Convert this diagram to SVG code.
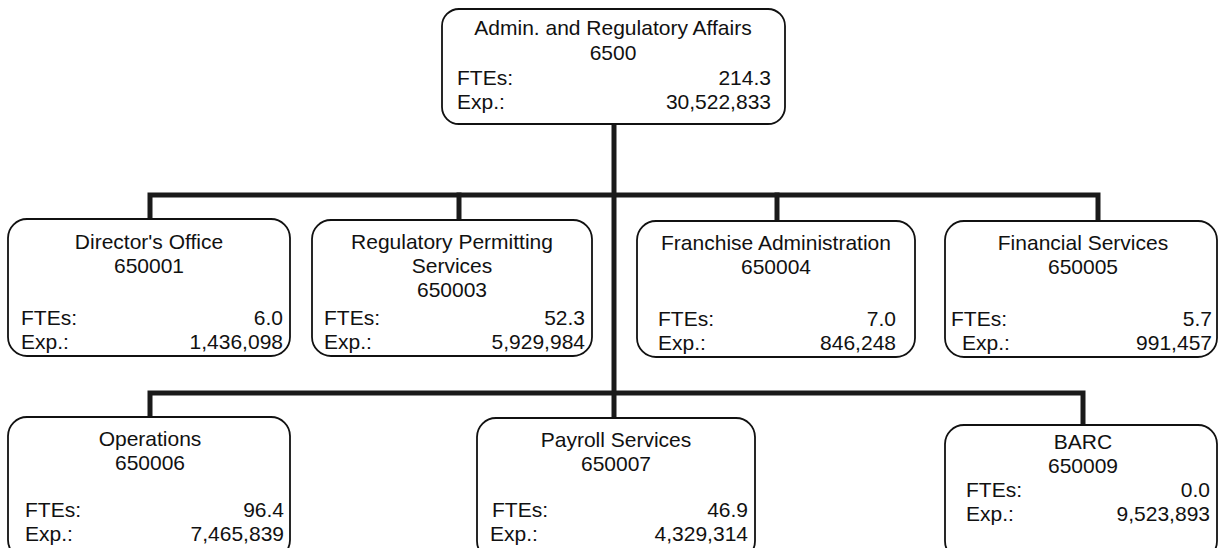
<svg xmlns="http://www.w3.org/2000/svg" width="1220" height="548" viewBox="0 0 1220 548">
<style>
.box{fill:#fff;stroke:#111;stroke-width:1.8}
.t{font-family:"Liberation Sans",Arial,sans-serif;font-size:21px;fill:#111}
.c{text-anchor:middle}
.r{text-anchor:end}
.con{fill:none;stroke:#1a1a1a;stroke-width:5;stroke-linecap:square}
</style>
<rect width="1220" height="548" fill="#fff"/>
<g id="connectors">
<path class="con" d="M614 124 V418"/>
<path class="con" d="M150 218 V195 H1098 V221"/>
<path class="con" d="M459 195 V220"/>
<path class="con" d="M777 195 V221"/>
<path class="con" d="M150 417 V393 H1083 V425"/>
</g>
<g id="admin">
<rect class="box" x="442" y="9" width="343" height="115" rx="17"/>
<text class="t c" x="613" y="35">Admin. and Regulatory Affairs</text>
<text class="t c" x="613" y="60">6500</text>
<text class="t" x="457" y="85">FTEs:</text>
<text class="t r" x="771" y="85">214.3</text>
<text class="t" x="457" y="109">Exp.:</text>
<text class="t r" x="771" y="109">30,522,833</text>
</g>
<g id="directors-office">
<rect class="box" x="8" y="219" width="282" height="137" rx="19"/>
<text class="t c" x="149" y="249">Director's Office</text>
<text class="t c" x="149" y="273">650001</text>
<text class="t" x="21" y="325">FTEs:</text>
<text class="t r" x="283" y="325">6.0</text>
<text class="t" x="21" y="349">Exp.:</text>
<text class="t r" x="283" y="349">1,436,098</text>
</g>
<g id="regulatory-permitting">
<rect class="box" x="312" y="220" width="280" height="136" rx="19"/>
<text class="t c" x="452" y="249">Regulatory Permitting</text>
<text class="t c" x="452" y="273">Services</text>
<text class="t c" x="452" y="297">650003</text>
<text class="t" x="324" y="325">FTEs:</text>
<text class="t r" x="585" y="325">52.3</text>
<text class="t" x="324" y="349">Exp.:</text>
<text class="t r" x="585" y="349">5,929,984</text>
</g>
<g id="franchise-administration">
<rect class="box" x="637" y="221" width="278" height="136" rx="19"/>
<text class="t c" x="776" y="250">Franchise Administration</text>
<text class="t c" x="776" y="274">650004</text>
<text class="t" x="658" y="326">FTEs:</text>
<text class="t r" x="896" y="326">7.0</text>
<text class="t" x="658" y="350">Exp.:</text>
<text class="t r" x="896" y="350">846,248</text>
</g>
<g id="financial-services">
<rect class="box" x="945" y="221" width="272" height="136" rx="19"/>
<text class="t c" x="1083" y="250">Financial Services</text>
<text class="t c" x="1083" y="274">650005</text>
<text class="t" x="951" y="326">FTEs:</text>
<text class="t r" x="1212" y="326">5.7</text>
<text class="t" x="962" y="350">Exp.:</text>
<text class="t r" x="1212" y="350">991,457</text>
</g>
<g id="operations">
<rect class="box" x="8" y="417" width="282" height="142" rx="19"/>
<text class="t c" x="150" y="446">Operations</text>
<text class="t c" x="150" y="470">650006</text>
<text class="t" x="25" y="517">FTEs:</text>
<text class="t r" x="284" y="517">96.4</text>
<text class="t" x="25" y="541">Exp.:</text>
<text class="t r" x="284" y="541">7,465,839</text>
</g>
<g id="payroll-services">
<rect class="box" x="477" y="418" width="278" height="142" rx="19"/>
<text class="t c" x="616" y="447">Payroll Services</text>
<text class="t c" x="616" y="471">650007</text>
<text class="t" x="492" y="517">FTEs:</text>
<text class="t r" x="748" y="517">46.9</text>
<text class="t" x="490" y="541">Exp.:</text>
<text class="t r" x="748" y="541">4,329,314</text>
</g>
<g id="barc">
<rect class="box" x="945" y="425" width="272" height="135" rx="19"/>
<text class="t c" x="1083" y="449">BARC</text>
<text class="t c" x="1083" y="473">650009</text>
<text class="t" x="966" y="497">FTEs:</text>
<text class="t r" x="1210" y="497">0.0</text>
<text class="t" x="966" y="521">Exp.:</text>
<text class="t r" x="1210" y="521">9,523,893</text>
</g>
</svg>
